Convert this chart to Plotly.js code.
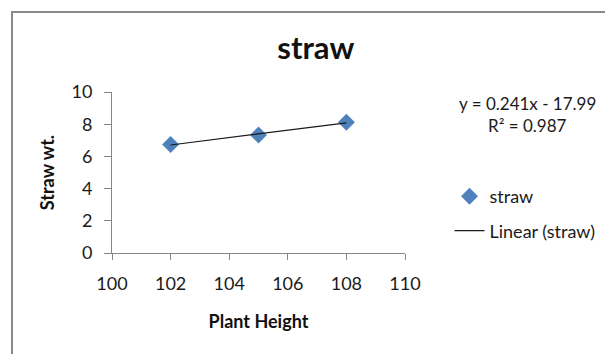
<!DOCTYPE html>
<html>
<head>
<meta charset="utf-8">
<script src="https://cdn.plot.ly/plotly-3.0.1.min.js"></script>
<style>
  html, body { margin: 0; padding: 0; overflow: hidden; background: #fff; }
  #chart { position: absolute; left: 0; top: 0; width: 605px; height: 354px; }
  #frame { position: absolute; left: 11px; top: 11px; width: 700px; height: 400px;
           border: 2px solid #8a8a8a; pointer-events: none; }
</style>
</head>
<body>
<div id="chart"></div>
<div id="frame"></div>
<script>
// Data
const plantHeight = [102, 105, 108];
const strawWt = [6.74, 7.33, 8.12];
const equationText = "y = 0.241x - 17.99";
const r2Text = "R² = 0.987";
const xTicks = [100, 102, 104, 106, 108, 110];
const yTicks = [0, 2, 4, 6, 8, 10];

// least-squares trendline computed from the data
const n = plantHeight.length;
const mx = plantHeight.reduce((a, b) => a + b, 0) / n;
const my = strawWt.reduce((a, b) => a + b, 0) / n;
let sxy = 0, sxx = 0;
for (let i = 0; i < n; i++) {
  sxy += (plantHeight[i] - mx) * (strawWt[i] - my);
  sxx += (plantHeight[i] - mx) ** 2;
}
const slope = sxy / sxx;
const intercept = my - slope * mx;
const trendX = [Math.min(...plantHeight), Math.max(...plantHeight)];
const trendY = trendX.map(x => slope * x + intercept);

const FONT = "Lato, 'Open Sans', sans-serif";

const traces = [
  {
    x: plantHeight, y: strawWt, type: "scatter", mode: "markers", name: "straw",
    legendgroup: "a",
    marker: { symbol: "diamond", size: 13, color: "#4F81BD", line: { width: 0 } },
    cliponaxis: false
  },
  {
    x: trendX, y: trendY, type: "scatter", mode: "lines", name: "Linear (straw)",
    legendgroup: "b",
    line: { color: "#1a1a1a", width: 1.2 }
  }
];

const layout = {
  width: 605, height: 354,
  margin: { l: 112, r: 200, t: 92, b: 101, pad: 0 },
  paper_bgcolor: "#fff", plot_bgcolor: "#fff",
  font: { family: FONT, size: 18, color: "#1a1a1a" },
  title: {
    text: "<b>straw</b>", font: { family: FONT, size: 31, color: "#111" },
    x: 0.522, xanchor: "center", xref: "container",
    y: 0.865, yanchor: "middle", yref: "container"
  },
  xaxis: {
    range: [100, 110], tickvals: xTicks, ticktext: xTicks.map(String),
    showgrid: false, zeroline: false, showline: true, linecolor: "#868686", linewidth: 1,
    ticks: "outside", ticklen: 6, tickcolor: "#868686", tickwidth: 1,
    ticklabelstandoff: 8,
    tickfont: { family: FONT, size: 18, color: "#1a1a1a" },
    title: { text: "<b>Plant Height</b>", font: { family: FONT, size: 18, color: "#111" }, standoff: 22 },
    fixedrange: true
  },
  yaxis: {
    range: [0, 10], tickvals: yTicks, ticktext: yTicks.map(String),
    showgrid: false, zeroline: false, showline: true, linecolor: "#868686", linewidth: 1,
    ticks: "outside", ticklen: 7, tickcolor: "#868686", tickwidth: 1,
    ticklabelstandoff: 8,
    tickfont: { family: FONT, size: 18, color: "#1a1a1a" },
    title: { text: "<b>Straw wt.</b>", font: { family: FONT, size: 18, color: "#111" }, standoff: 12 },
    fixedrange: true
  },
  showlegend: true,
  legend: {
    xref: "container", yref: "container",
    x: 0.743, xanchor: "left", y: 0.497, yanchor: "top",
    bgcolor: "rgba(0,0,0,0)", borderwidth: 0,
    font: { family: FONT, size: 18, color: "#1a1a1a" },
    traceorder: "grouped", tracegroupgap: 8
  },
  annotations: [
    { text: equationText, xref: "paper", yref: "paper", x: 1.417, y: 0.93,
      xanchor: "center", yanchor: "middle", showarrow: false,
      font: { family: FONT, size: 17, color: "#1a1a1a" } },
    { text: r2Text, xref: "paper", yref: "paper", x: 1.417, y: 0.794,
      xanchor: "center", yanchor: "middle", showarrow: false,
      font: { family: FONT, size: 17, color: "#1a1a1a" } }
  ]
};

Plotly.newPlot("chart", traces, layout, { displayModeBar: false, staticPlot: true });
</script>
</body>
</html>
